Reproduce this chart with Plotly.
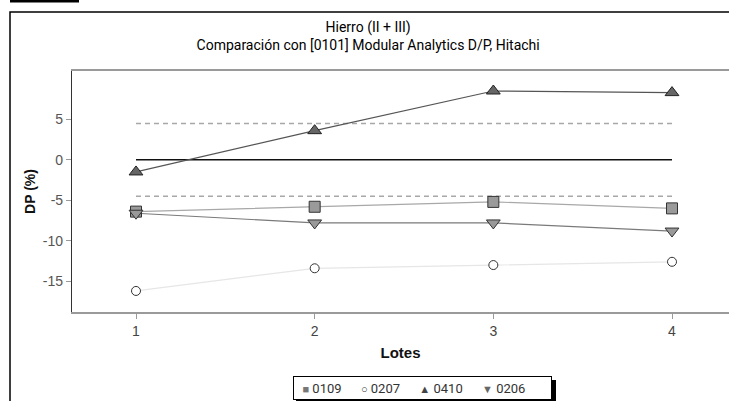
import plotly.graph_objects as go

# ---- data ----
lotes = [1, 2, 3, 4]
x_ticks = [1, 2, 3, 4]
y_ticks = [-15, -10, -5, 0, 5]
series_names = ["0109", "0207", "0410", "0206"]
s0109 = [-6.4, -5.8, -5.2, -6.0]
s0207 = [-16.2, -13.4, -13.0, -12.6]
s0410 = [-1.5, 3.6, 8.5, 8.3]
s0206 = [-6.6, -7.8, -7.8, -8.8]
limite = 4.5          # dashed acceptance limits (+/-)
referencia = 0        # solid reference line

title_1 = "Hierro (II + III)"
title_2 = "Comparación con [0101] Modular Analytics D/P, Hitachi"
x_title = "Lotes"
y_title = "DP (%)"

# ---- layout geometry (pixels) ----
W, H = 729, 401
L, R, T, B = 72, 0, 71, 89
PW, PH = W - L - R, H - T - B

def px(x):
    return (x - L) / PW

def py(y):
    return (H - B - y) / PH

TFONT = "Roboto, Liberation Sans, Arial, sans-serif"
SANS = "Liberation Sans, Arial, Helvetica, sans-serif"

fig = go.Figure()

# reference lines
fig.add_trace(go.Scatter(x=[lotes[0], lotes[-1]], y=[limite, limite], mode="lines",
                         line=dict(color="#a8a8a8", width=1.5, dash="5px,4px"),
                         showlegend=False, hoverinfo="skip"))
fig.add_trace(go.Scatter(x=[lotes[0], lotes[-1]], y=[-limite, -limite], mode="lines",
                         line=dict(color="#a8a8a8", width=1.5, dash="5px,4px"),
                         showlegend=False, hoverinfo="skip"))
fig.add_trace(go.Scatter(x=[lotes[0], lotes[-1]], y=[referencia, referencia], mode="lines",
                         line=dict(color="#111111", width=1.6),
                         showlegend=False, hoverinfo="skip"))

# name, values, line colour, marker, legend glyph, glyph colour
series = [
    (series_names[0], s0109, "#a8a8a8", dict(symbol="square", size=11, color="#9a9a9a",
                                              line=dict(color="#333333", width=1)), "■", "#777777"),
    (series_names[1], s0207, "#e6e6e6", dict(symbol="circle", size=9, color="white",
                                              line=dict(color="#333333", width=1)), "○", "#333333"),
    (series_names[2], s0410, "#555555", dict(symbol="triangle-up", size=12, color="#666666",
                                              line=dict(color="#222222", width=1)), "▲", "#444444"),
    (series_names[3], s0206, "#7a7a7a", dict(symbol="triangle-down", size=12, color="#999999",
                                              line=dict(color="#333333", width=1)), "▼", "#666666"),
]

# connecting lines first
for name, vals, lc, mk, g, gc in series:
    fig.add_trace(go.Scatter(x=lotes, y=vals, mode="lines", line=dict(color=lc, width=1.2),
                             showlegend=False, hoverinfo="skip"))
# markers on top
for name, vals, lc, mk, g, gc in series:
    fig.add_trace(go.Scatter(x=lotes, y=vals, mode="markers", marker=mk, name=name,
                             showlegend=False))

# compact boxed legend (as in the reference)
sp = "&nbsp;" * 6
legend_text = "&nbsp;&nbsp;" + sp.join(
    f"<span style='color:{gc};font-size:11px'>{g}</span> {name}" for name, vals, lc, mk, g, gc in series
)

shapes = [
    # outer frame (runs off the image to the right and bottom)
    dict(type="rect", xref="paper", yref="paper", x0=px(10), x1=px(W + 20), y0=py(H + 20), y1=py(12),
         line=dict(color="black", width=1.5), fillcolor="rgba(0,0,0,0)", layer="below"),
    # black bar at top-left
    dict(type="rect", xref="paper", yref="paper", x0=px(10), x1=px(79), y0=py(2.5), y1=py(-1),
         line=dict(width=0), fillcolor="black"),
    # legend drop shadow
    dict(type="rect", xref="paper", yref="paper", x0=px(296), x1=px(556), y0=py(401), y1=py(380),
         line=dict(width=0), fillcolor="black", layer="above"),
]

annotations = [
    dict(text=legend_text, xref="paper", yref="paper", x=px(293), y=py(376),
         xanchor="left", yanchor="top", showarrow=False, align="left",
         width=253, height=18, valign="middle", borderpad=2,
         bgcolor="white", bordercolor="black", borderwidth=1,
         font=dict(family=TFONT, size=13, color="#333333")),
]

fig.update_layout(
    width=W, height=H,
    margin=dict(l=L, r=R, t=T, b=B, autoexpand=False),
    paper_bgcolor="white", plot_bgcolor="white",
    title=dict(text=title_1 + "<br>" + title_2, x=0.505, xanchor="center", xref="container",
               y=1 - 32 / H, yanchor="top",
               font=dict(family=TFONT, size=14, color="#000000", weight=400)),
    xaxis=dict(range=[1 - (136 - L) / 178.67, 4 + (W - 672) / 178.67],
               tickvals=x_ticks, ticktext=[str(v) for v in x_ticks],
               showgrid=False, zeroline=False,
               showline=True, linecolor="#9a9a9a", linewidth=1.5, mirror=True,
               ticks="outside", ticklen=5, tickcolor="#9a9a9a",
               tickfont=dict(family=SANS, size=14, color="#444444"),
               title=dict(text="<b>" + x_title + "</b>", standoff=10,
                          font=dict(family=SANS, size=15, color="#111111"))),
    yaxis=dict(range=[(159.7 - 311.7) / 8.085, (159.7 - 71) / 8.085],
               tickvals=y_ticks, ticktext=[str(v) for v in y_ticks],
               showgrid=False, zeroline=False,
               showline=True, linecolor="#333333", linewidth=1.2,
               ticks="outside", ticklen=5, tickcolor="#9a9a9a",
               tickfont=dict(family=SANS, size=14, color="#555555"),
               title=dict(text="<b>" + y_title + "</b>", standoff=3,
                          font=dict(family=SANS, size=14, color="#111111"))),
    shapes=shapes,
    annotations=annotations,
    showlegend=False,
)

fig.write_html("out.html", config={"displayModeBar": False},
               post_script="document.body.style.margin='0';")
